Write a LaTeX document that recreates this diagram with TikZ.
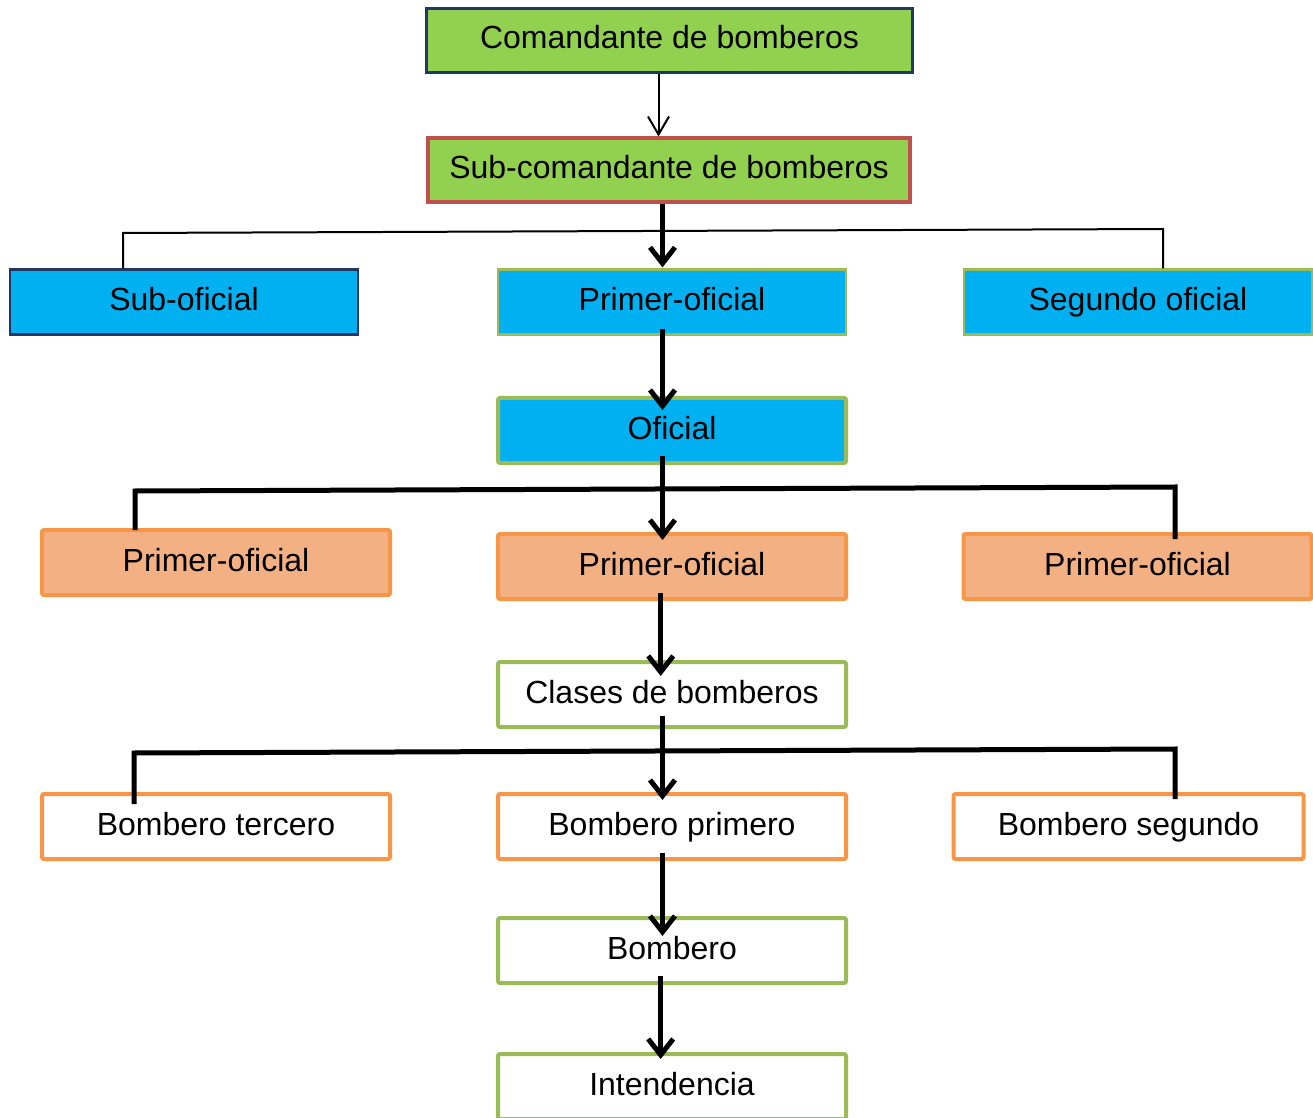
\documentclass[tikz,border=0pt]{standalone}
\usepackage{fontspec}
\setmainfont{Liberation Sans}
\usetikzlibrary{arrows.meta,calc}

\definecolor{leaf}{HTML}{92D050}
\definecolor{navy}{HTML}{1F3864}
\definecolor{brick}{HTML}{C0504D}
\definecolor{sky}{HTML}{00B0F0}
\definecolor{olive}{HTML}{9BBB59}
\definecolor{peach}{HTML}{F3B083}
\definecolor{tangerine}{HTML}{F79646}

\tikzset{
  box/.style={draw, inner sep=0pt, minimum width=174pt, minimum height=32.5pt,
    text height=12pt, text depth=3.5pt, font=\fontsize{16}{19}\selectfont},
  topbox/.style={box, fill=leaf, draw=navy, line width=1.1pt},
  subbox/.style={box, fill=leaf, draw=brick, line width=2pt},
  bluenavy/.style={box, fill=sky, draw=navy, line width=1.1pt},
  bluegreen/.style={box, fill=sky, draw=olive, line width=1.1pt},
  bluegreenb/.style={box, fill=sky, draw=olive, line width=2pt, rounded corners=1pt},
  orangebox/.style={box, fill=peach, draw=tangerine, line width=2pt, rounded corners=1pt},
  whiteorange/.style={box, fill=white, draw=tangerine, line width=2pt, rounded corners=1pt},
  whitegreen/.style={box, fill=white, draw=olive, line width=2pt, rounded corners=1pt},
  thinline/.style={draw=black, line width=1pt, line join=miter},
  thickline/.style={draw=black, line width=2.5pt, line join=miter},
  thinarrow/.style={thinline, -{Straight Barb[length=9pt, width=10.5pt]}},
  thickarrow/.style={thickline, -{Straight Barb[length=8pt, width=12.5pt]}},
}

\begin{document}
\begin{tikzpicture}[x=0.5pt, y=-0.5pt]
  \useasboundingbox (0,0) rectangle (1313,1118);
  \fill[white] (0,0) rectangle (1313,1118);
  \clip (0,0) rectangle (1313,1118);

  % boxes
  \node[topbox, minimum width=243pt, minimum height=32pt] (cmd) at (669.5,40.5) {Comandante de bomberos};
  \node[subbox, minimum width=241pt, minimum height=32pt] (sub) at (669,170.5) {Sub-comandante de bomberos};

  \node[bluenavy]  (subof) at (184,302)  {Sub-oficial};
  \node[bluegreen] (prim1) at (672,302)  {Primer-oficial};
  \node[bluegreen] (seg)   at (1138,302) {Segundo oficial};

  \node[bluegreenb] (ofi) at (672,430.5) {Oficial};

  \node[orangebox] (pol) at (216,562.5)    {Primer-oficial};
  \node[orangebox] (pom) at (672,566.5)    {Primer-oficial};
  \node[orangebox] (por) at (1137.5,566.5) {Primer-oficial};

  \node[whitegreen] (cla) at (672,694.5) {Clases de bomberos};

  \node[whiteorange] (bt) at (216,826.5)    {Bombero tercero};
  \node[whiteorange] (bp) at (672,826.5)    {Bombero primero};
  \node[whiteorange, minimum width=175pt] (bs) at (1128.5,826.5) {Bombero segundo};

  \node[whitegreen] (bom) at (672,950.5)  {Bombero};
  \node[whitegreen] (int) at (672,1086.5) {Intendencia};

  % columns of the vertical connectors
  \coordinate (xa) at (658.5,0);
  \coordinate (xb) at (662.5,0);
  \coordinate (xc) at (660.7,0);

  % branch corners
  \coordinate (t1l) at (123,233);
  \coordinate (t1r) at (1163,229);
  \coordinate (t2l) at (135,491);
  \coordinate (t2r) at (1175,487);
  \coordinate (t3l) at (134,753);
  \coordinate (t3r) at (1175,749);

  % branches
  \draw[thinline] (subof.north -| t1l) -- (t1l) -- (t1r) -- (seg.north -| t1r);
  \draw[thickline] ($(pol.north -| t2l)+(0,2)$) -- (t2l) -- (t2r) -- ($(por.north -| t2r)+(0,7)$);
  \draw[thickline] ($(bt.north -| t3l)+(0,12)$) -- (t3l) -- (t3r) -- ($(bs.north -| t3r)+(0,7)$);

  % vertical arrows
  \draw[thinarrow]  (cmd.south -| xa) -- (sub.north -| xa);
  \draw[thickarrow] (sub.south -| xb) -- ($(prim1.north -| xb)+(0,-1)$);
  \draw[thickarrow] ($(prim1.south -| xb)+(0,-7)$) -- ($(ofi.north -| xb)+(0,14)$);
  \draw[thickarrow] ($(ofi.south -| xb)+(0,-9)$) -- ($(pom.north -| xb)+(0,8)$);
  \draw[thickarrow] ($(pom.south -| xc)+(0,-8)$) -- ($(cla.north -| xc)+(0,16)$);
  \draw[thickarrow] ($(cla.south -| xb)+(0,-13)$) -- ($(bp.north -| xb)+(0,8)$);
  \draw[thickarrow] ($(bp.south -| xb)+(0,-8)$) -- ($(bom.north -| xb)+(0,20)$);
  \draw[thickarrow] ($(bom.south -| xc)+(0,-9)$) -- ($(int.north -| xc)+(0,7)$);
\end{tikzpicture}
\end{document}
